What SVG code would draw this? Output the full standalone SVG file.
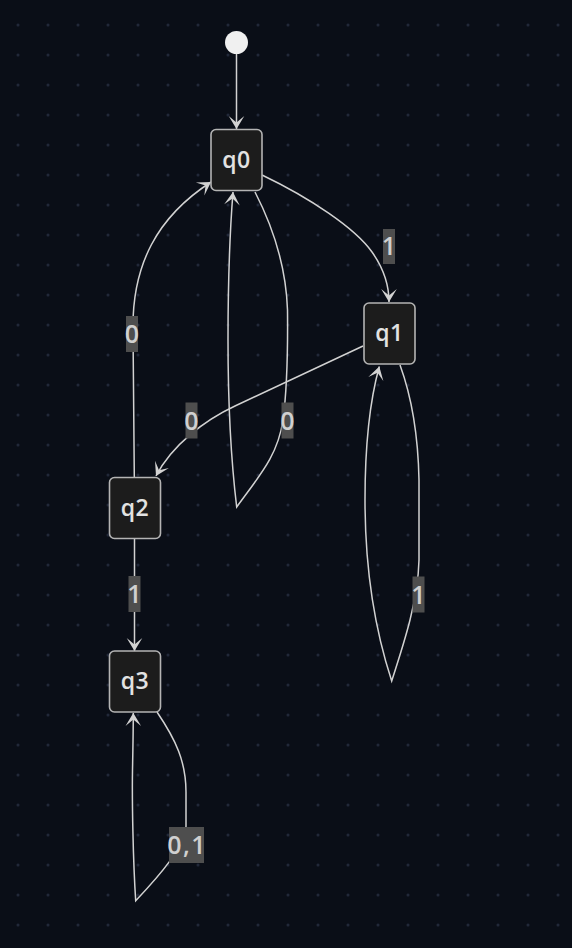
<svg xmlns="http://www.w3.org/2000/svg" width="572" height="948" viewBox="0 0 572 948">
<style>
.node rect{fill:#1c1c1c;stroke:#b4b4b4;stroke-width:1.6}
.node text{fill:#e2e2e2;font-family:"Open Sans","Liberation Sans",Arial,sans-serif;font-size:23px;font-weight:600;text-anchor:middle;letter-spacing:0.5px}
.edge{fill:none;stroke:#d2d2d2;stroke-width:1.5}
.lbl rect{fill:#4e4e4e}
.lbl text{fill:#d0d0d0;font-family:"Open Sans","Liberation Sans",Arial,sans-serif;font-size:25px;font-weight:600;text-anchor:middle}
</style>
<defs>
<pattern id="dots" x="3" y="10" width="30" height="30" patternUnits="userSpaceOnUse">
<circle cx="15" cy="15" r="1.5" fill="#212839"/>
</pattern>
<marker id="arr" viewBox="0 0 20 14" refX="19" refY="7" markerWidth="26" markerHeight="18.2" markerUnits="userSpaceOnUse" orient="auto">
<path d="M19,7 L9,13 L14,7 L9,1 Z" fill="#d2d2d2"/>
</marker>
</defs>
<rect width="572" height="948" fill="#0a0e17"/>
<rect width="572" height="948" fill="url(#dots)"/>

<g id="connectors">
<path class="edge" d="M236.5,54 L236.5,129" marker-end="url(#arr)"/>
<path class="edge" d="M262,175 C310,198 355,228 372,252 C384,269 389,285 389,302" marker-end="url(#arr)"/>
<path class="edge" d="M363,346 L235,406 C205,420 172,445 156,476" marker-end="url(#arr)"/>
<path class="edge" d="M134.3,477 L133,330 C132,265 157,217 211,182" marker-end="url(#arr)"/>
<path class="edge" d="M255,192 C272,225 286,265 287.5,310 C288,360 287,390 283,420 C278,455 260,475 236.7,507 C231,460 228,400 228,340 C228,280 230,230 233,192" marker-end="url(#arr)"/>
<path class="edge" d="M400,365 C411,395 418,430 419,480 L419,560 C418,600 405,640 391.7,681 C375,630 365,570 365,500 C365,440 370,400 379.3,366.5" marker-end="url(#arr)"/>
<path class="edge" d="M134.5,538.5 L134.5,651" marker-end="url(#arr)"/>
<path class="edge" d="M157,712 C176,740 186,762 186,792 L186,826 C186,845 160,875 135.7,900.7 C133,860 132,800 132.5,770 C133,745 133.3,730 133.3,713" marker-end="url(#arr)"/>
</g>

<g id="edge-labels">
<g class="lbl" id="lbl-q0-q1"><rect x="383" y="229" width="12" height="35"/><text x="389" y="255.3">1</text></g>
<g class="lbl" id="lbl-q1-q2"><rect x="185.5" y="402.5" width="12" height="36"/><text x="191.5" y="429.5">0</text></g>
<g class="lbl" id="lbl-q2-q0"><rect x="126" y="316" width="12" height="36"/><text x="132" y="343">0</text></g>
<g class="lbl" id="lbl-q0-q0"><rect x="281.5" y="402.5" width="12" height="36"/><text x="287.5" y="429.5">0</text></g>
<g class="lbl" id="lbl-q1-q1"><rect x="412.5" y="576.5" width="12" height="36"/><text x="418.5" y="603.5">1</text></g>
<g class="lbl" id="lbl-q2-q3"><rect x="128.5" y="576" width="12" height="36"/><text x="134.5" y="603">1</text></g>
<g class="lbl" id="lbl-q3-q3"><rect x="169" y="827" width="35" height="36"/><text x="187.2" y="854" letter-spacing="1.5">0,1</text></g>
</g>

<g id="start"><circle cx="236.5" cy="42.5" r="11.5" fill="#f0f0f0"/></g>
<g class="node" id="q0"><rect x="211" y="129.5" width="51" height="61" rx="5"/><text x="236.5" y="167.5">q0</text></g>
<g class="node" id="q1"><rect x="364" y="303" width="51" height="61" rx="5"/><text x="389.5" y="341">q1</text></g>
<g class="node" id="q2"><rect x="109.5" y="477.5" width="51" height="61" rx="5"/><text x="135" y="515.5">q2</text></g>
<g class="node" id="q3"><rect x="109.5" y="651" width="51" height="61" rx="5"/><text x="135" y="689">q3</text></g>
</svg>
